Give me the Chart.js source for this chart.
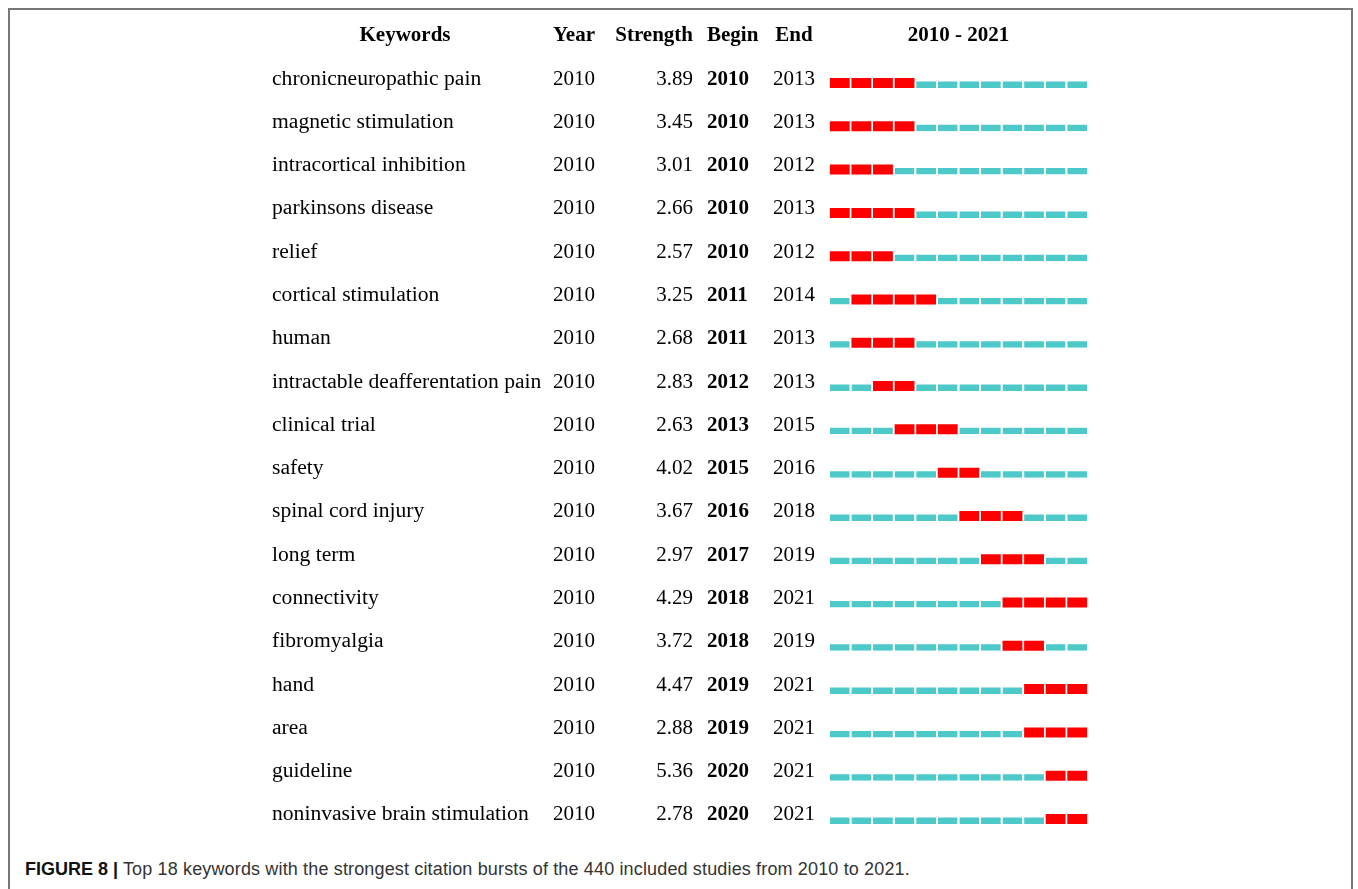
<!DOCTYPE html>
<html>
<head>
<meta charset="utf-8">
<script src="https://cdn.jsdelivr.net/npm/chart.js@4"></script>
<style>
  html, body { margin: 0; padding: 0; background: #fff; }
  body { width: 1358px; height: 889px; position: relative; overflow: hidden; }
  #frame { position: absolute; left: 8px; top: 8px; width: 1345px; height: 920px; border: 2px solid #777; box-sizing: border-box; }
  #chart { position: absolute; left: 0; top: 0; }
  #caption { position: absolute; left: 25px; top: 860px; font: 18px "Liberation Sans", Arial, sans-serif; letter-spacing: 0.15px; line-height: 18px; color: #333; white-space: nowrap; }
  #caption b { color: #111; letter-spacing: 0; }
</style>
</head>
<body>
<div id="frame"></div>
<canvas id="chart" width="1358" height="850"></canvas>
<div id="caption"><b>FIGURE 8 |</b> Top 18 keywords with the strongest citation bursts of the 440 included studies from 2010 to 2021.</div>
<script>
// dados
const keywords = [
  "chronicneuropathic pain", "magnetic stimulation", "intracortical inhibition",
  "parkinsons disease", "relief", "cortical stimulation", "human",
  "intractable deafferentation pain", "clinical trial", "safety",
  "spinal cord injury", "long term", "connectivity", "fibromyalgia",
  "hand", "area", "guideline", "noninvasive brain stimulation"
];
const years     = [2010,2010,2010,2010,2010,2010,2010,2010,2010,2010,2010,2010,2010,2010,2010,2010,2010,2010];
const strengths = [3.89,3.45,3.01,2.66,2.57,3.25,2.68,2.83,2.63,4.02,3.67,2.97,4.29,3.72,4.47,2.88,5.36,2.78];
const begins    = [2010,2010,2010,2010,2010,2011,2011,2012,2013,2015,2016,2017,2018,2018,2019,2019,2020,2020];
const ends      = [2013,2013,2012,2013,2012,2014,2013,2013,2015,2016,2018,2019,2021,2019,2021,2021,2021,2021];
const firstYear = 2010;
const lastYear = 2021;
const headers = ["Keywords", "Year", "Strength", "Begin", "End", firstYear + " - " + lastYear];

const GAP = 0.04;

// segmentos: um por ano, vermelho no período do burst, ciano no resto
const normalSegs = [];
const burstSegs = [];
keywords.forEach((k, i) => {
  for (let y = firstYear; y <= lastYear; y++) {
    const seg = { x: [y + GAP, y + 1 - GAP], y: k };
    if (y >= begins[i] && y <= ends[i]) burstSegs.push(seg);
    else normalSegs.push(seg);
  }
});

const SERIF = '"Liberation Serif", "Times New Roman", serif';

// colunas de texto à esquerda das barras
const tablePlugin = {
  id: "tableText",
  afterDraw(chart) {
    const ctx = chart.ctx;
    const ys = chart.scales.y;
    const xs = chart.scales.x;
    const step = ys.getPixelForValue(1) - ys.getPixelForValue(0);
    const base = 1.5;

    ctx.save();
    ctx.fillStyle = "#000";
    ctx.textBaseline = "alphabetic";

    // cabeçalho
    const hy = ys.getPixelForValue(0) - step + base;
    ctx.font = "bold 21px " + SERIF;
    ctx.textAlign = "center"; ctx.fillText(headers[0], 405, hy);
    ctx.textAlign = "left";   ctx.fillText(headers[1], 553, hy);
    ctx.textAlign = "right";  ctx.fillText(headers[2], 693, hy);
    ctx.textAlign = "left";   ctx.fillText(headers[3], 707, hy);
    ctx.textAlign = "center"; ctx.fillText(headers[4], 794, hy);
    ctx.fillText(headers[5], (xs.left + xs.right) / 2, hy);

    keywords.forEach((k, i) => {
      const y = ys.getPixelForValue(i) + base;
      ctx.font = "21.6px " + SERIF;
      ctx.textAlign = "left";   ctx.fillText(k, 272, y);
      ctx.font = "21px " + SERIF;
      ctx.fillText(String(years[i]), 553, y);
      ctx.textAlign = "right";  ctx.fillText(strengths[i].toFixed(2), 693, y);
      ctx.textAlign = "center"; ctx.fillText(String(ends[i]), 794, y);
      ctx.font = "bold 21px " + SERIF;
      ctx.textAlign = "left";   ctx.fillText(String(begins[i]), 707, y);
    });
    ctx.restore();
  }
};

new Chart(document.getElementById("chart"), {
  type: "bar",
  data: {
    labels: keywords,
    datasets: [
      {
        label: "normal",
        data: normalSegs,
        backgroundColor: "#4dc9c9",
        borderColor: "rgba(0,0,0,0)",
        borderWidth: { top: 3.5, right: 0, bottom: 0, left: 0 },
        borderSkipped: false,
        barThickness: 10,
        inflateAmount: 0
      },
      {
        label: "burst",
        data: burstSegs,
        backgroundColor: "#ff0000",
        borderWidth: 0,
        barThickness: 10,
        inflateAmount: 0
      }
    ]
  },
  options: {
    indexAxis: "y",
    responsive: false,
    animation: false,
    grouped: false,
    layout: { padding: { left: 829, right: 270, top: 61.4, bottom: 9.4 } },
    scales: {
      x: { type: "linear", min: firstYear, max: lastYear + 1, display: false },
      y: { type: "category", display: false, offset: true }
    },
    plugins: {
      legend: { display: false },
      tooltip: { enabled: false }
    }
  },
  plugins: [tablePlugin]
});
</script>
</body>
</html>
